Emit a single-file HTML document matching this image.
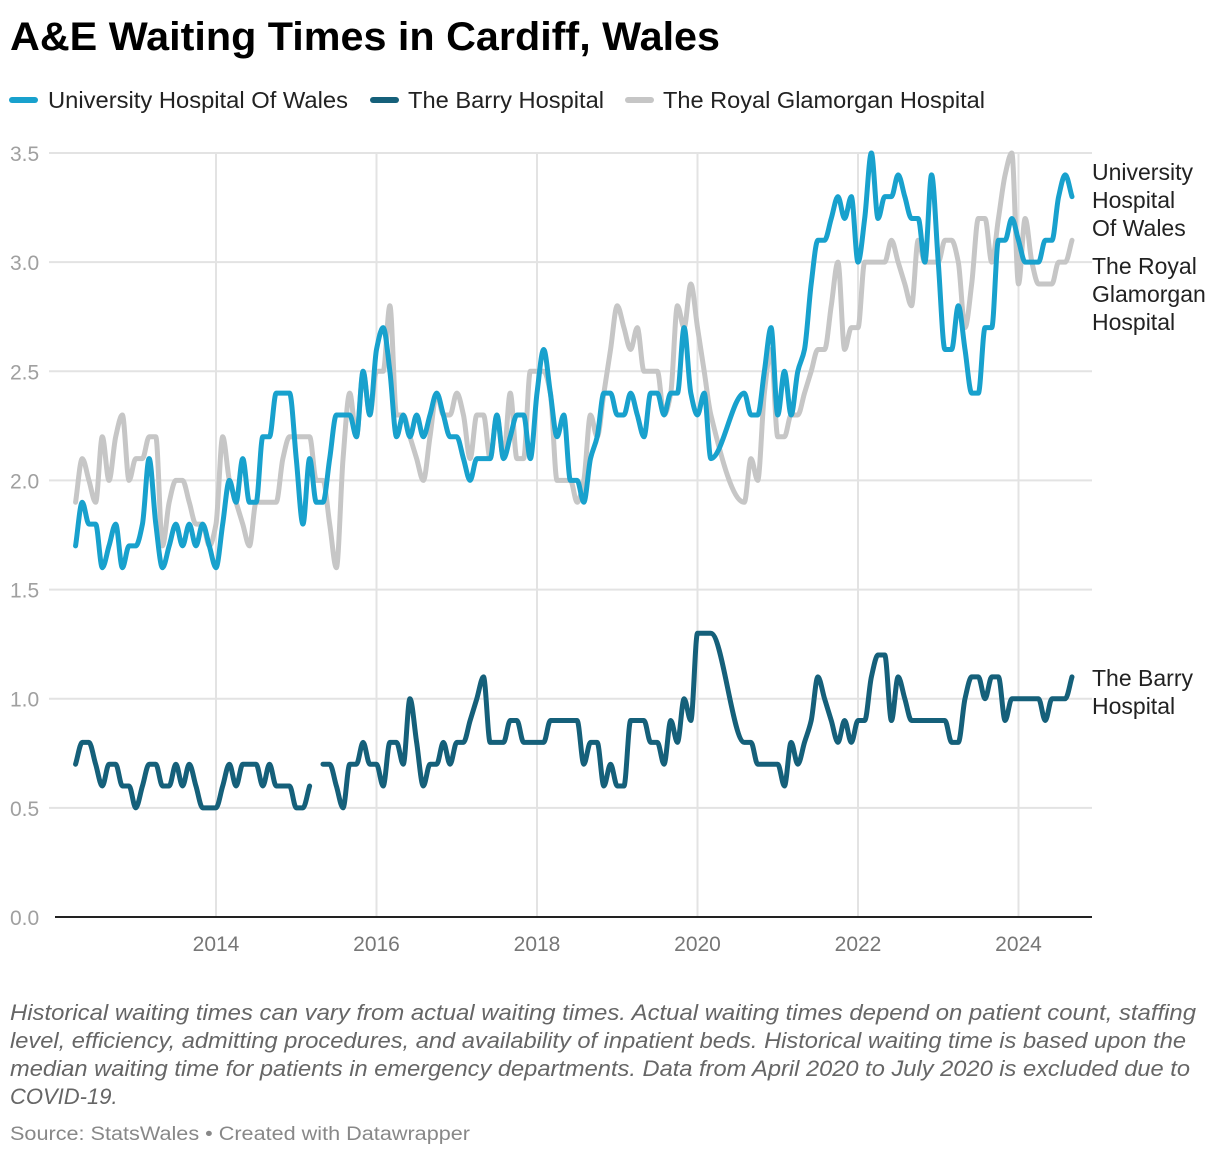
<!DOCTYPE html>
<html><head><meta charset="utf-8"><style>
html,body{margin:0;padding:0;background:#fff;}
svg{display:block;font-family:"Liberation Sans",sans-serif;}
</style></head><body>
<svg id="chart" width="1220" height="1156" viewBox="0 0 1220 1156" xmlns="http://www.w3.org/2000/svg">
<text x="10" y="50" font-size="40" font-weight="bold" fill="#000" textLength="710" lengthAdjust="spacingAndGlyphs">A&amp;E Waiting Times in Cardiff, Wales</text>
<g font-size="23" fill="#222">
<g><line x1="12" y1="100" x2="35" y2="100" stroke="#18a1cd" stroke-width="6" stroke-linecap="round"/><text x="48" y="108" textLength="300" lengthAdjust="spacingAndGlyphs">University Hospital Of Wales</text></g>
<g><line x1="326" y1="100" x2="349" y2="100" stroke="#15607a" stroke-width="6" stroke-linecap="round" transform="translate(47,0)"/><text x="408" y="108" textLength="196" lengthAdjust="spacingAndGlyphs">The Barry Hospital</text></g>
<g><line x1="628" y1="100" x2="651" y2="100" stroke="#c6c6c6" stroke-width="6" stroke-linecap="round"/><text x="663" y="108" textLength="322" lengthAdjust="spacingAndGlyphs">The Royal Glamorgan Hospital</text></g>
</g>
<g id="grid"></g>
<g id="yaxis"></g>
<g id="xaxis"></g>
<g id="lines"></g>
<g font-size="23" fill="#222">
<text x="1092" y="180">University</text>
<text x="1092" y="208">Hospital</text>
<text x="1092" y="236">Of Wales</text>
<text x="1092" y="274">The Royal</text>
<text x="1092" y="302">Glamorgan</text>
<text x="1092" y="330">Hospital</text>
<text x="1092" y="686">The Barry</text>
<text x="1092" y="714">Hospital</text>
</g>
<g font-size="22" font-style="italic" fill="#666">
<text x="10" y="1020" textLength="1186" lengthAdjust="spacingAndGlyphs">Historical waiting times can vary from actual waiting times. Actual waiting times depend on patient count, staffing</text>
<text x="10" y="1048" textLength="1176" lengthAdjust="spacingAndGlyphs">level, efficiency, admitting procedures, and availability of inpatient beds. Historical waiting time is based upon the</text>
<text x="10" y="1076" textLength="1180" lengthAdjust="spacingAndGlyphs">median waiting time for patients in emergency departments. Data from April 2020 to July 2020 is excluded due to</text>
<text x="10" y="1104">COVID-19.</text>
</g>
<text x="10" y="1140" font-size="19" fill="#888" textLength="460" lengthAdjust="spacingAndGlyphs">Source: StatsWales • Created with Datawrapper</text>
</svg>
<script>
const yTicks = [0, 0.5, 1.0, 1.5, 2.0, 2.5, 3.0, 3.5];
const yTickLabels = ["0.0","0.5","1.0","1.5","2.0","2.5","3.0","3.5"];
const xTicks = [2014, 2016, 2018, 2020, 2022, 2024];
const startYear = 2012, startMonth = 4, endYear = 2024, endMonth = 9;
const excludedMonths = ["2020-04","2020-05","2020-06","2020-07"];
const university = [
1.7,1.9,1.8,1.8,1.6,1.7,1.8,1.6,1.7,
1.7,1.8,2.1,1.8,1.6,1.7,1.8,1.7,1.8,1.7,1.8,1.7,
1.6,1.8,2.0,1.9,2.1,1.9,1.9,2.2,2.2,2.4,2.4,2.4,
2.1,1.8,2.1,1.9,1.9,2.1,2.3,2.3,2.3,2.2,2.5,2.3,
2.6,2.7,2.5,2.2,2.3,2.2,2.3,2.2,2.3,2.4,2.3,2.2,
2.2,2.1,2.0,2.1,2.1,2.1,2.3,2.1,2.2,2.3,2.3,2.1,
2.4,2.6,2.4,2.2,2.3,2.0,2.0,1.9,2.1,2.2,2.4,2.4,
2.3,2.3,2.4,2.3,2.2,2.4,2.4,2.3,2.4,2.4,2.7,2.4,
2.3,2.4,2.1,2.4,2.3,2.3,2.5,2.7,
2.3,2.5,2.3,2.5,2.6,2.9,3.1,3.1,3.2,3.3,3.2,3.3,
3.0,3.2,3.5,3.2,3.3,3.3,3.4,3.3,3.2,3.2,3.0,3.4,
3.0,2.6,2.6,2.8,2.6,2.4,2.4,2.7,2.7,3.1,3.1,3.2,
3.1,3.0,3.0,3.0,3.1,3.1,3.3,3.4,3.3];
const royalGlamorgan = [
1.9,2.1,2.0,1.9,2.2,2.0,2.2,2.3,2.0,
2.1,2.1,2.2,2.2,1.7,1.9,2.0,2.0,1.9,1.8,1.8,1.7,
1.8,2.2,2.0,1.9,1.8,1.7,1.9,1.9,1.9,1.9,2.1,2.2,
2.2,2.2,2.2,2.0,2.0,1.8,1.6,2.1,2.4,2.2,2.5,2.3,
2.5,2.5,2.8,2.3,2.3,2.2,2.1,2.0,2.2,2.4,2.3,2.3,
2.4,2.3,2.1,2.3,2.3,2.1,2.3,2.1,2.4,2.1,2.1,2.5,
2.5,2.5,2.4,2.0,2.0,2.0,1.9,2.0,2.3,2.2,2.4,2.6,
2.8,2.7,2.6,2.7,2.5,2.5,2.5,2.3,2.4,2.8,2.7,2.9,
2.7,2.5,2.3,1.9,2.1,2.0,2.4,2.6,
2.2,2.2,2.3,2.3,2.4,2.5,2.6,2.6,2.8,3.0,2.6,2.7,
2.7,3.0,3.0,3.0,3.0,3.1,3.0,2.9,2.8,3.1,3.0,3.0,
3.0,3.1,3.1,3.0,2.7,2.9,3.2,3.2,3.0,3.2,3.4,3.5,
2.9,3.2,3.0,2.9,2.9,2.9,3.0,3.0,3.1];
const barry = [
0.7,0.8,0.8,0.7,0.6,0.7,0.7,0.6,0.6,
0.5,0.6,0.7,0.7,0.6,0.6,0.7,0.6,0.7,0.6,0.5,0.5,
0.5,0.6,0.7,0.6,0.7,0.7,0.7,0.6,0.7,0.6,0.6,0.6,
0.5,0.5,0.6,null,0.7,0.7,0.6,0.5,0.7,0.7,0.8,0.7,
0.7,0.6,0.8,0.8,0.7,1.0,0.8,0.6,0.7,0.7,0.8,0.7,
0.8,0.8,0.9,1.0,1.1,0.8,0.8,0.8,0.9,0.9,0.8,0.8,
0.8,0.8,0.9,0.9,0.9,0.9,0.9,0.7,0.8,0.8,0.6,0.7,
0.6,0.6,0.9,0.9,0.9,0.8,0.8,0.7,0.9,0.8,1.0,0.9,
1.3,1.3,1.3,0.8,0.8,0.7,0.7,0.7,
0.7,0.6,0.8,0.7,0.8,0.9,1.1,1.0,0.9,0.8,0.9,0.8,
0.9,0.9,1.1,1.2,1.2,0.9,1.1,1.0,0.9,0.9,0.9,0.9,
0.9,0.9,0.8,0.8,1.0,1.1,1.1,1.0,1.1,1.1,0.9,1.0,
1.0,1.0,1.0,1.0,0.9,1.0,1.0,1.0,1.1];

const NS = "http://www.w3.org/2000/svg";
const plotL = 49, plotR = 1092, yTop = 153, yBot = 917;
function xScale(t){ return 216 + (t - 2014) * 80.25; }
function yScale(v){ return yBot - (v / 3.5) * (yBot - yTop); }

// build month categories
const months = [];
for (let y = startYear; y <= endYear; y++) {
  for (let m = 1; m <= 12; m++) {
    if (y === startYear && m < startMonth) continue;
    if (y === endYear && m > endMonth) continue;
    const key = y + "-" + String(m).padStart(2, "0");
    if (excludedMonths.indexOf(key) >= 0) continue;
    months.push(y + (m - 1) / 12);
  }
}

const grid = document.getElementById("grid");
const yaxis = document.getElementById("yaxis");
const xaxis = document.getElementById("xaxis");
yTicks.forEach((v, i) => {
  if (v > 0) {
    const l = document.createElementNS(NS, "line");
    
    
    l.setAttribute("x1", plotL); l.setAttribute("x2", plotR);
    l.setAttribute("y1", yScale(v)); l.setAttribute("y2", yScale(v));
    l.setAttribute("stroke", "#e3e3e3"); l.setAttribute("stroke-width", "2");
    grid.appendChild(l);
  }
  const t = document.createElementNS(NS, "text");
  
  
  t.setAttribute("x", 10); t.setAttribute("y", yScale(v) + 8);
  t.setAttribute("font-size", "21"); t.setAttribute("fill", "#a0a0a0");
  t.textContent = yTickLabels[i];
  yaxis.appendChild(t);
});
xTicks.forEach(yr => {
  const l = document.createElementNS(NS, "line");
  
  
  l.setAttribute("x1", xScale(yr)); l.setAttribute("x2", xScale(yr));
  l.setAttribute("y1", yTop); l.setAttribute("y2", yBot);
  l.setAttribute("stroke", "#e3e3e3"); l.setAttribute("stroke-width", "2");
  grid.appendChild(l);
  const t = document.createElementNS(NS, "text");
  
  
  t.setAttribute("x", xScale(yr)); t.setAttribute("y", 951);
  t.setAttribute("text-anchor", "middle");
  t.setAttribute("font-size", "21"); t.setAttribute("fill", "#777");
  t.textContent = yr;
  xaxis.appendChild(t);
});
const base = document.createElementNS(NS, "line");


base.setAttribute("x1", 55); base.setAttribute("x2", plotR);
base.setAttribute("y1", yBot); base.setAttribute("y2", yBot);
base.setAttribute("stroke", "#222"); base.setAttribute("stroke-width", "2");
xaxis.appendChild(base);

function monotonePath(pts){
  const n = pts.length;
  if (n === 1) return "M" + pts[0][0] + "," + pts[0][1];
  const d = [], m = [];
  for (let i = 0; i < n - 1; i++) d.push((pts[i+1][1]-pts[i][1])/(pts[i+1][0]-pts[i][0]));
  m[0] = d[0]; m[n-1] = d[n-2];
  for (let i = 1; i < n - 1; i++) {
    if (d[i-1] * d[i] <= 0) m[i] = 0;
    else {
      const h0 = pts[i][0]-pts[i-1][0], h1 = pts[i+1][0]-pts[i][0];
      const w1 = 2*h1 + h0, w2 = h1 + 2*h0;
      m[i] = (w1 + w2) / (w1 / d[i-1] + w2 / d[i]);
    }
  }
  let s = "M" + pts[0][0].toFixed(2) + "," + pts[0][1].toFixed(2);
  for (let i = 0; i < n - 1; i++) {
    const h = (pts[i+1][0]-pts[i][0]) / 3;
    s += "C" + (pts[i][0]+h).toFixed(2) + "," + (pts[i][1]+m[i]*h).toFixed(2) + " " +
         (pts[i+1][0]-h).toFixed(2) + "," + (pts[i+1][1]-m[i+1]*h).toFixed(2) + " " +
         pts[i+1][0].toFixed(2) + "," + pts[i+1][1].toFixed(2);
  }
  return s;
}
function drawSeries(values, color, name){
  const g = document.createElementNS(NS, "g");
  
  
  let seg = [];
  const segs = [];
  values.forEach((v, i) => {
    if (v === null || v === undefined) { if (seg.length) segs.push(seg); seg = []; }
    else seg.push([xScale(months[i]), yScale(v)]);
  });
  if (seg.length) segs.push(seg);
  segs.forEach(sp => {
    const p = document.createElementNS(NS, "path");
    
    
    p.setAttribute("d", monotonePath(sp));
    p.setAttribute("fill", "none"); p.setAttribute("stroke", color);
    p.setAttribute("stroke-width", "5"); p.setAttribute("stroke-linejoin", "round");
    p.setAttribute("stroke-linecap", "round");
    g.appendChild(p);
  });
  document.getElementById("lines").appendChild(g);
}
drawSeries(royalGlamorgan, "#c6c6c6", "series-royal-glamorgan");
drawSeries(university, "#18a1cd", "series-university-hospital");
drawSeries(barry, "#15607a", "series-barry-hospital");
</script>
</body></html>
